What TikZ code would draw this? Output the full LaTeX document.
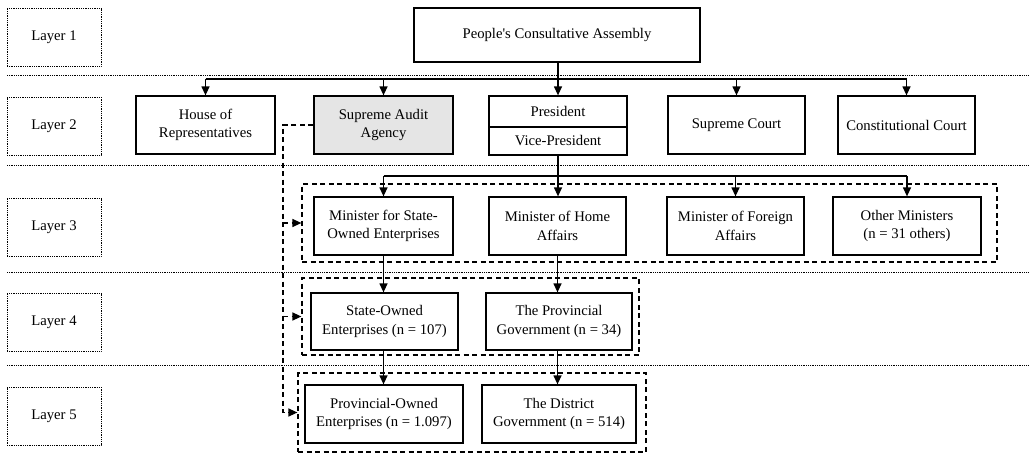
\documentclass[tikz,border=0pt]{standalone}
\usepackage{fontspec}
\setmainfont{Liberation Serif}
\usetikzlibrary{arrows.meta}
\begin{document}
\begin{tikzpicture}[x=1pt,y=-1pt,
  font=\fontsize{14.7}{18.5}\selectfont,
  box/.style={draw, line width=1.25pt, inner sep=0pt, align=center},
  layerbox/.style={draw, line width=1pt, dash pattern=on 1pt off 0.8pt, minimum width=94pt, minimum height=58pt, inner sep=0pt},
  grp/.style={draw, line width=1.2pt, dash pattern=on 5pt off 3.5pt, inner sep=0pt},
  sep/.style={line width=1pt, dash pattern=on 1pt off 0.8pt},
  solidline/.style={line width=1.25pt},
  conn/.style={line width=1.25pt, -{Triangle[length=9pt,width=8pt]}},
  dconn/.style={line width=1.25pt, dash pattern=on 5pt off 3.5pt, -{Triangle[length=9pt,width=8pt]}},
]
\useasboundingbox (0,0) rectangle (1029,453);

% separators
\coordinate (s1a) at (7,75);   \coordinate (s1b) at (1029,75);
\coordinate (s2a) at (7,165);  \coordinate (s2b) at (1029,165);
\coordinate (s3a) at (7,272);  \coordinate (s3b) at (1029,272);
\coordinate (s4a) at (7,365);  \coordinate (s4b) at (1029,365);
\draw[sep] (s1a) -- (s1b);
\draw[sep] (s2a) -- (s2b);
\draw[sep] (s3a) -- (s3b);
\draw[sep] (s4a) -- (s4b);

% layer labels
\node[layerbox] (l1) at (54,37.5) {Layer 1};
\node[layerbox] (l2) at (54,126) {Layer 2};
\node[layerbox] (l3) at (54,227.5) {Layer 3};
\node[layerbox] (l4) at (54,322.5) {Layer 4};
\node[layerbox] (l5) at (54,416) {Layer 5};

% groups
\node[grp, minimum width=695pt, minimum height=78pt] (g3) at (649.5,223) {};
\node[grp, minimum width=337pt, minimum height=77pt] (g4) at (470.5,316.5) {};
\node[grp, minimum width=348pt, minimum height=79pt] (g5) at (472,412.5) {};

% layer 1
\node[box, minimum width=286pt, minimum height=54pt] (pca) at (557,35) {People\textquotesingle s Consultative Assembly};

% layer 2
\node[box, minimum width=139pt, minimum height=58pt] (hor) at (205.5,125) {House of\\Representatives};
\node[box, minimum width=139pt, minimum height=58pt, fill=black!10] (saa) at (383.5,125) {Supreme Audit\\Agency};
\node[box, minimum width=138pt, minimum height=31pt] (pres) at (558,111.5) {President};
\node[box, minimum width=138pt, minimum height=28pt] (vice) at (558,141) {Vice-President};
\node[box, minimum width=137pt, minimum height=58pt] (sc) at (736.5,125) {Supreme Court};
\node[box, minimum width=137pt, minimum height=58pt] (cc) at (906.5,125) {Constitutional Court};

% layer 3
\node[box, minimum width=139pt, minimum height=58pt] (msoe) at (383.5,226) {Minister for State-\\Owned Enterprises};
\node[box, minimum width=137pt, minimum height=58pt] (mha) at (557.5,226) {Minister of Home\\Affairs};
\node[box, minimum width=137pt, minimum height=58pt] (mfa) at (735.5,226) {Minister of Foreign\\Affairs};
\node[box, minimum width=148pt, minimum height=58pt] (om) at (907,226) {Other Ministers\\(n = 31 others)};

% layer 4
\node[box, minimum width=147pt, minimum height=57pt] (soe) at (384.5,321.5) {State-Owned\\Enterprises (n = 107)};
\node[box, minimum width=146pt, minimum height=57pt] (pg) at (559,321.5) {The Provincial\\Government (n = 34)};

% layer 5
\node[box, minimum width=158pt, minimum height=58pt] (poe) at (384,414) {Provincial-Owned\\Enterprises (n = 1.097)};
\node[box, minimum width=154pt, minimum height=58pt] (dg) at (559,414) {The District\\Government (n = 514)};

% layer 1 -> 2
\coordinate (bus2) at (0,79);
\draw[solidline] (hor.north |- bus2) -- (cc.north |- bus2);
\draw[conn] (pca.south -| pres.north) -- (pres.north);
\draw[conn] (hor.north |- bus2) -- (hor.north);
\draw[conn] (saa.north |- bus2) -- (saa.north);
\draw[conn] (sc.north |- bus2) -- (sc.north);
\draw[conn] (cc.north |- bus2) -- (cc.north);

% layer 2 -> 3
\coordinate (bus3) at (0,176);
\draw[solidline] (msoe.north |- bus3) -- (om.north |- bus3);
\draw[conn] (vice.south) -- (vice.south |- mha.north);
\draw[conn] (msoe.north |- bus3) -- (msoe.north);
\draw[conn] (mfa.north |- bus3) -- (mfa.north);
\draw[conn] (om.north |- bus3) -- (om.north);

% layer 3 -> 4 -> 5
\draw[conn] (msoe.south) -- (msoe.south |- soe.north);
\draw[conn] (mha.south) -- (mha.south |- pg.north);
\draw[conn] (msoe.south |- soe.south) -- (msoe.south |- poe.north);
\draw[conn] (mha.south |- pg.south) -- (mha.south |- dg.north);

% audit dashed links
\coordinate (sj) at (283,0);
\draw[dconn] (saa.west) -| (sj |- g5.west) -- (g5.west);
\draw[dconn] (sj |- g3.west) -- (g3.west);
\draw[dconn] (sj |- g4.west) -- (g4.west);
\end{tikzpicture}
\end{document}
